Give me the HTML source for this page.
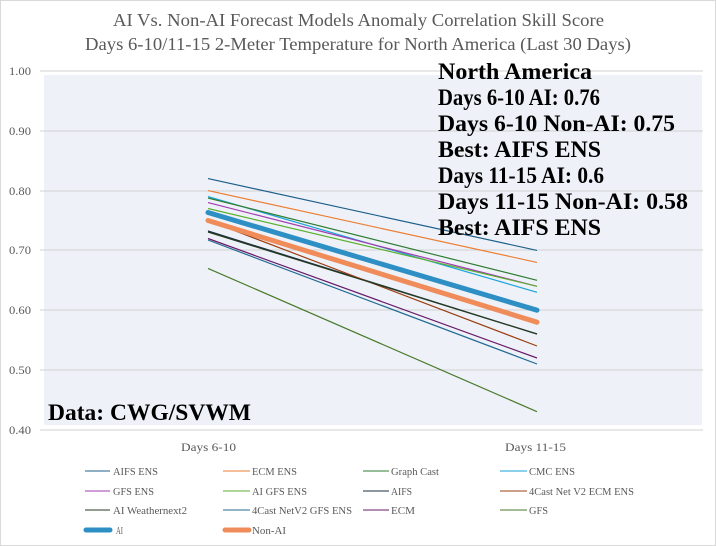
<!DOCTYPE html>
<html><head><meta charset="utf-8"><style>
html,body{margin:0;padding:0;background:#fff;}
svg{display:block;font-family:"Liberation Serif",serif;}
</style></head><body>
<svg width="716" height="546" viewBox="0 0 716 546" xmlns="http://www.w3.org/2000/svg">
<rect x="0.5" y="0.5" width="715" height="545" fill="#fff" stroke="#d9d9d9"/>
<text x="113" y="26" font-size="18" fill="#595959" textLength="491" lengthAdjust="spacingAndGlyphs">AI Vs. Non-AI Forecast Models Anomaly  Correlation Skill  Score</text>
<text x="85" y="50" font-size="18" fill="#595959" textLength="546" lengthAdjust="spacingAndGlyphs">Days 6-10/11-15  2-Meter Temperature for North America  (Last 30 Days)</text>
<rect x="44" y="75" width="658" height="350" fill="#eef2f8"/>
<g stroke="#d0d0d0" stroke-width="1">
<line x1="40" y1="71" x2="703" y2="71"/><line x1="40" y1="131" x2="703" y2="131"/>
<line x1="40" y1="191" x2="703" y2="191"/><line x1="40" y1="250" x2="703" y2="250"/>
<line x1="40" y1="310" x2="703" y2="310"/><line x1="40" y1="370" x2="703" y2="370"/>
<line x1="40" y1="430" x2="703" y2="430"/>
</g>
<g font-size="12" fill="#595959">
<text x="9" y="75" textLength="22" lengthAdjust="spacingAndGlyphs">1.00</text>
<text x="9" y="135" textLength="22" lengthAdjust="spacingAndGlyphs">0.90</text>
<text x="9" y="195" textLength="22" lengthAdjust="spacingAndGlyphs">0.80</text>
<text x="9" y="254" textLength="22" lengthAdjust="spacingAndGlyphs">0.70</text>
<text x="9" y="314" textLength="22" lengthAdjust="spacingAndGlyphs">0.60</text>
<text x="9" y="374" textLength="22" lengthAdjust="spacingAndGlyphs">0.50</text>
<text x="9" y="434" textLength="22" lengthAdjust="spacingAndGlyphs">0.40</text>
</g>
<g fill="none" stroke-width="1.2">
<line x1="208" y1="178.6" x2="537" y2="250.4" stroke="#1f5f8b"/>
<line x1="208" y1="190.6" x2="537" y2="262.4" stroke="#ed7d31"/>
<line x1="208" y1="196.6" x2="537" y2="292.3" stroke="#1aa3d9"/>
<line x1="208" y1="198" x2="537" y2="280.3" stroke="#2e7d32"/>
<line x1="208" y1="202.6" x2="537" y2="286.3" stroke="#a23bb0"/>
<line x1="208" y1="208.5" x2="537" y2="286.3" stroke="#5cb030"/>
<line x1="208" y1="231" x2="537" y2="334" stroke="#1b2f44"/>
<line x1="208" y1="220.5" x2="537" y2="346" stroke="#9c3f12"/>
<line x1="208" y1="232" x2="537" y2="334" stroke="#253a1f"/>
<line x1="208" y1="238.5" x2="537" y2="358" stroke="#6a1b6a"/>
<line x1="208" y1="240" x2="537" y2="364" stroke="#236a93"/>
<line x1="208" y1="268.4" x2="537" y2="411.7" stroke="#4a7a2c"/>
</g>
<line x1="208" y1="212.5" x2="537" y2="310.2" stroke="#2e8fc4" stroke-width="5" stroke-linecap="round"/>
<line x1="208" y1="220.5" x2="537" y2="322.2" stroke="#f08c5a" stroke-width="5" stroke-linecap="round"/>
<g font-size="23" font-weight="bold" fill="#000" lengthAdjust="spacingAndGlyphs">
<text x="438" y="79" textLength="154" lengthAdjust="spacingAndGlyphs">North America</text>
<text x="438" y="105" textLength="162" lengthAdjust="spacingAndGlyphs">Days 6-10 AI: 0.76</text>
<text x="438" y="131" textLength="237" lengthAdjust="spacingAndGlyphs">Days 6-10 Non-AI: 0.75</text>
<text x="438" y="157" textLength="163" lengthAdjust="spacingAndGlyphs">Best: AIFS ENS</text>
<text x="438" y="183" textLength="166" lengthAdjust="spacingAndGlyphs">Days 11-15 AI: 0.6</text>
<text x="438" y="209" textLength="250" lengthAdjust="spacingAndGlyphs">Days 11-15 Non-AI: 0.58</text>
<text x="438" y="235" textLength="163" lengthAdjust="spacingAndGlyphs">Best: AIFS ENS</text>
<text x="48" y="420" textLength="203" lengthAdjust="spacingAndGlyphs">Data: CWG/SVWM</text>
</g>
<g font-size="12" fill="#595959">
<text x="181" y="451" textLength="55" lengthAdjust="spacingAndGlyphs">Days 6-10</text>
<text x="505" y="451" textLength="61" lengthAdjust="spacingAndGlyphs">Days 11-15</text>
</g>
<g font-size="11" fill="#595959">
<line x1="85" y1="471" x2="110" y2="471" stroke="#1f5f8b"/><text x="113" y="475" textLength="45" lengthAdjust="spacingAndGlyphs">AIFS  ENS</text>
<line x1="223" y1="471" x2="250" y2="471" stroke="#ed7d31"/><text x="252" y="475" textLength="45" lengthAdjust="spacingAndGlyphs">ECM ENS</text>
<line x1="363" y1="471" x2="389" y2="471" stroke="#2e7d32"/><text x="391" y="475" textLength="48" lengthAdjust="spacingAndGlyphs">Graph Cast</text>
<line x1="500" y1="471" x2="527" y2="471" stroke="#1aa3d9"/><text x="529" y="475" textLength="46" lengthAdjust="spacingAndGlyphs">CMC ENS</text>
<line x1="85" y1="491" x2="110" y2="491" stroke="#a23bb0"/><text x="113" y="495" textLength="41" lengthAdjust="spacingAndGlyphs">GFS ENS</text>
<line x1="223" y1="491" x2="250" y2="491" stroke="#5cb030"/><text x="252" y="495" textLength="55" lengthAdjust="spacingAndGlyphs">AI GFS ENS</text>
<line x1="363" y1="491" x2="389" y2="491" stroke="#1b2f44"/><text x="391" y="495" textLength="21" lengthAdjust="spacingAndGlyphs">AIFS</text>
<line x1="500" y1="491" x2="527" y2="491" stroke="#9c3f12"/><text x="529" y="495" textLength="105" lengthAdjust="spacingAndGlyphs">4Cast Net V2 ECM ENS</text>
<line x1="85" y1="510" x2="110" y2="510" stroke="#253a1f"/><text x="113" y="514" textLength="74" lengthAdjust="spacingAndGlyphs">AI Weathernext2</text>
<line x1="223" y1="510" x2="250" y2="510" stroke="#236a93"/><text x="252" y="514" textLength="100" lengthAdjust="spacingAndGlyphs">4Cast NetV2 GFS ENS</text>
<line x1="363" y1="510" x2="389" y2="510" stroke="#6a1b6a"/><text x="391" y="514" textLength="24" lengthAdjust="spacingAndGlyphs">ECM</text>
<line x1="500" y1="510" x2="527" y2="510" stroke="#4a7a2c"/><text x="529" y="514" textLength="19" lengthAdjust="spacingAndGlyphs">GFS</text>
<line x1="86" y1="530" x2="110" y2="530" stroke="#2e8fc4" stroke-width="5" stroke-linecap="round"/><text x="116" y="534" textLength="7" lengthAdjust="spacingAndGlyphs">AI</text>
<line x1="225" y1="530" x2="249" y2="530" stroke="#f08c5a" stroke-width="5" stroke-linecap="round"/><text x="252" y="534" textLength="34" lengthAdjust="spacingAndGlyphs">Non-AI</text>
</g>
</svg>
</body></html>
